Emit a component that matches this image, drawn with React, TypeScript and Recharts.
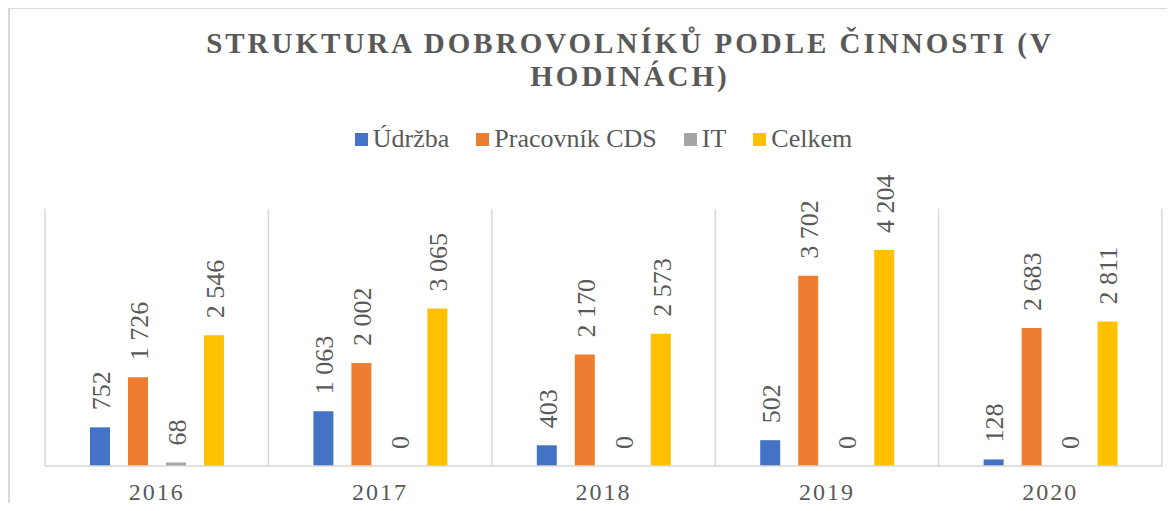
import React from 'react';
import { BarChart, Bar, XAxis, YAxis, CartesianGrid, Legend, LabelList } from 'recharts';

const categories = ['2016', '2017', '2018', '2019', '2020'];
const udrzba = [752, 1063, 403, 502, 128];
const pracovnik = [1726, 2002, 2170, 3702, 2683];
const it = [68, 0, 0, 0, 0];
const celkem = [2546, 3065, 2573, 4204, 2811];
const seriesNames = ['Údržba', 'Pracovník CDS', 'IT', 'Celkem'];
const seriesKeys = ['udrzba', 'pracovnik', 'it', 'celkem'];
const seriesColors = ['#4472C4', '#ED7D31', '#A5A5A5', '#FFC000'];
const titleLines = ['STRUKTURA DOBROVOLNÍKŮ PODLE ČINNOSTI (V', 'HODINÁCH)'];
const yDomain = [0, 5000];

const data = categories.map((year, i) => ({
  year,
  udrzba: udrzba[i],
  pracovnik: pracovnik[i],
  it: it[i],
  celkem: celkem[i],
}));

const FONT = "'Liberation Serif', 'Times New Roman', Times, serif";
const TEXT = '#595959';
const GRID = '#d9d9d9';

const fmt = (v: number) => String(v).replace(/\B(?=(\d{3})+(?!\d))/g, ' ');

const renderLabel = (props: any) => {
  const { x, y, width, value } = props;
  const cx = Number(x) + Number(width) / 2;
  const cy = Number(y) - 17;
  return (
    <text
      x={cx}
      y={cy}
      transform={`rotate(-90 ${cx} ${cy})`}
      dy="0.38em"
      textAnchor="start"
      fill={TEXT}
      style={{ fontFamily: FONT, fontSize: 26 }}
    >
      {fmt(Number(value))}
    </text>
  );
};

const renderTick = (props: any) => {
  const { x, y, payload } = props;
  return (
    <text
      x={x}
      y={Number(y) + 34}
      textAnchor="middle"
      fill={TEXT}
      style={{ fontFamily: FONT, fontSize: 24, letterSpacing: '2px' }}
    >
      {payload.value}
    </text>
  );
};

const renderLegend = () => (
  <div
    style={{
      height: 140,
      display: 'flex',
      alignItems: 'center',
      justifyContent: 'center',
      fontFamily: FONT,
      fontSize: 26,
      color: TEXT,
    }}
  >
    {seriesNames.map((name, i) => (
      <div
        key={name}
        style={{ display: 'flex', alignItems: 'center', marginLeft: i === 0 ? 0 : 27 }}
      >
        <span
          style={{ display: 'inline-block', width: 13, height: 13, background: seriesColors[i], marginRight: 5 }}
        />
        <span style={{ lineHeight: '26px', fontFamily: FONT }}>{name}</span>
      </div>
    ))}
  </div>
);

export default function App() {
  return (
    <div style={{ position: 'relative', width: 1167, height: 503, marginBottom: -8, fontFamily: FONT }}>
      <svg
        width={1175}
        height={511}
        style={{ position: 'absolute', left: -8, top: -8, pointerEvents: 'none' }}
      >
        <line x1={0} y1={8} x2={1175} y2={8} stroke={GRID} strokeWidth={2} />
        <line x1={9} y1={7} x2={9} y2={511} stroke={GRID} strokeWidth={2} />
        {titleLines.map((t, i) => (
          <text
            key={i}
            x={630}
            y={53 + i * 33}
            textAnchor="middle"
            fill={TEXT}
            style={{ fontFamily: FONT, fontSize: 29, fontWeight: 'bold', letterSpacing: '3px' }}
          >
            {t}
          </text>
        ))}
      </svg>
      <BarChart
        width={1167}
        height={503}
        data={data}
        margin={{ top: 61, right: 13, bottom: 15, left: 37 }}
        barSize={20}
        barGap={18}
        style={{ fontFamily: FONT }}
      >
        <CartesianGrid
          horizontal={false}
          vertical
          stroke={GRID}
          strokeWidth={1.5}
          verticalCoordinatesGenerator={({ offset }: any) => {
            const n = categories.length;
            const pts: number[] = [];
            for (let i = 0; i <= n; i++) pts.push(offset.left + (i * offset.width) / n);
            return pts;
          }}
        />
        <XAxis
          dataKey="year"
          tickLine={false}
          tickSize={0}
          tickMargin={0}
          axisLine={{ stroke: GRID, strokeWidth: 1.5 }}
          tick={renderTick}
          interval={0}
        />
        <YAxis hide domain={yDomain} />
        <Legend verticalAlign="top" content={renderLegend} />
        {seriesKeys.map((k, i) => (
          <Bar
            key={k}
            dataKey={k}
            name={seriesNames[i]}
            fill={seriesColors[i]}
            minPointSize={0.01}
            isAnimationActive={false}
          >
            <LabelList dataKey={k} content={renderLabel} />
          </Bar>
        ))}
      </BarChart>
    </div>
  );
}
